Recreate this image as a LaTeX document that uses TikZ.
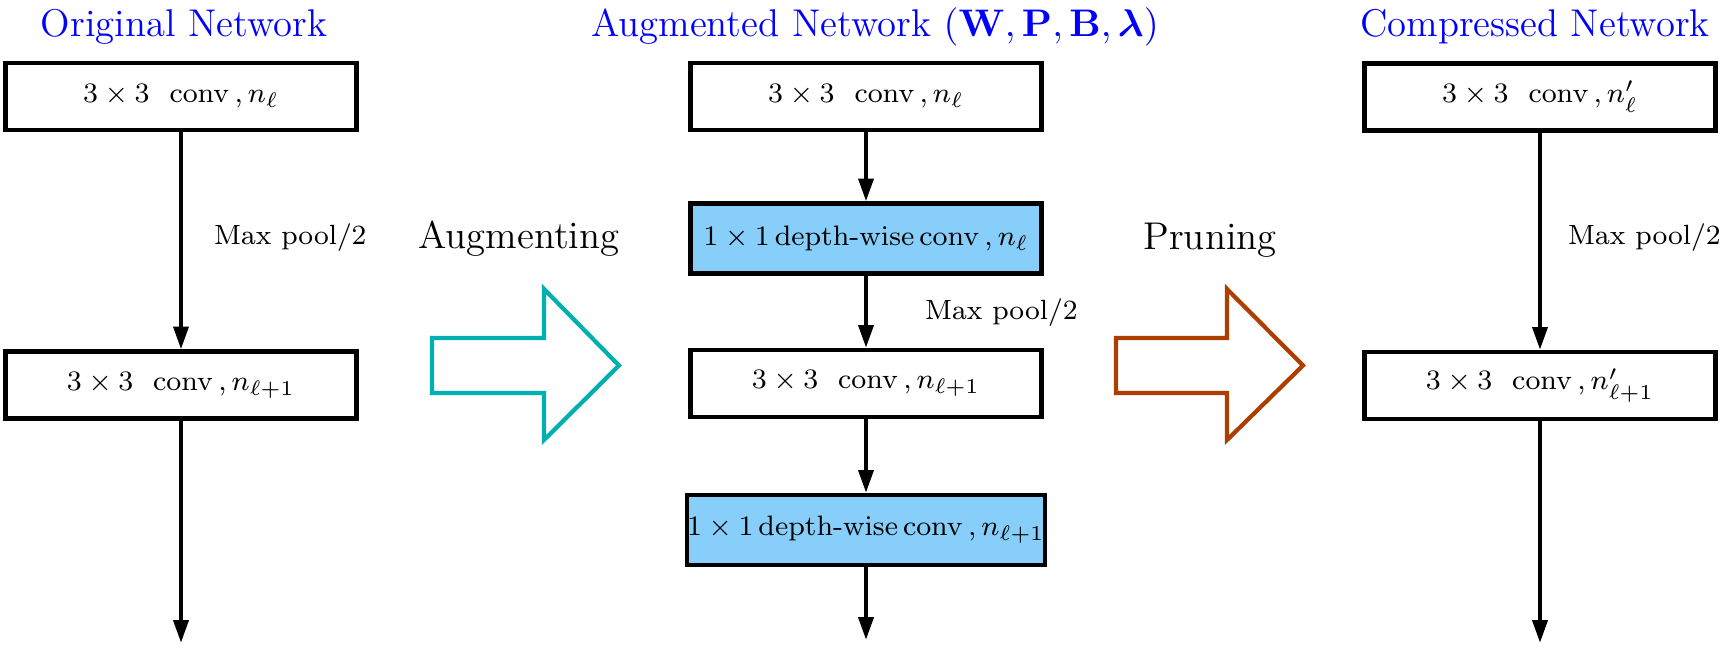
\documentclass[tikz,border=0pt]{standalone}
\usepackage{xcolor}
\usepackage{amsmath}
\usepackage{amssymb}
\usetikzlibrary{arrows.meta,positioning}
\definecolor{augcyan}{RGB}{0,176,176}
\definecolor{pruneorange}{RGB}{172,62,0}
\definecolor{dwblue}{RGB}{135,206,250}
\tikzset{
  every picture/.style = {
    line width = 1.2pt,
    >={Triangle[length=6.5pt,width=4.2pt]},
  }
  ,
  conv-box/.style = {
    rectangle,
    draw,
    fill = white,
    inner sep = 0pt,
    minimum width = 3.51cm,
    minimum height = 0.67cm,
    font = \fontsize{8}{10}\selectfont
  }
  , % depth-wise layers of the augmented net
  dw-box/.style = {
    conv-box,
    fill = dwblue,
    minimum height = 0.70cm
  }
  , % titles of the columns
  label-title/.style = {
    anchor = base,
    text = blue,
    font = \fontsize{11}{13}\selectfont
  }
  , % labels of edges
  label-edge/.style = {
    anchor = base west,
    inner sep = 0pt,
    font = \fontsize{7.9}{10}\selectfont
  }
  , % labels of the big arrows
  label-step/.style = {
    anchor = base,
    font = \fontsize{11}{13}\selectfont
  }
  ,
  block-arrow/.style = {
    draw = #1,
    line width = 1.2pt,
    fill = white
  }
}

\begin{document}
\begin{tikzpicture}
    \useasboundingbox (0,0) rectangle (17.23,-6.5);
    % titles
    \node[label-title] (t-orig) at (1.84,-0.37) {Original Network};
    \node[label-title] (t-aug) at (8.75,-0.37) {Augmented Network $(\mathbf{W},\mathbf{P},\mathbf{B},\boldsymbol{\lambda})$};
    \node[label-title] (t-comp) at (15.35,-0.37) {Compressed Network};
    % original network
    \node[conv-box] (o1) at (1.81,-0.965) {$3\times3~~\mathrm{conv}\,,n_{\ell}$};
    \node[conv-box] (o2) at (1.81,-3.85) {$3\times3~~\mathrm{conv}\,,n_{\ell+1}$};
    \coordinate (o-end) at (1.81,-6.43);
    \node[label-edge] (pool-o) at (2.12,-2.45) {Max pool/2};
    \path[->] (o1) edge (o2);
    \path[->] (o2) edge (o-end);
    % augmented network
    \node[conv-box] (a1) at (8.66,-0.965) {$3\times3~~\mathrm{conv}\,,n_{\ell}$};
    \node[dw-box] (d1) at (8.66,-2.385) {$1\times1\,\mathrm{depth\text{-}wise}\,\mathrm{conv}\,,n_{\ell}$};
    \node[conv-box] (a2) at (8.66,-3.835) {$3\times3~~\mathrm{conv}\,,n_{\ell+1}$};
    \node[dw-box] (d2) at (8.66,-5.30) {$1\times1\,\mathrm{depth\text{-}wise}\,\mathrm{conv}\,,n_{\ell+1}$};
    \coordinate (a-end) at (8.66,-6.40);
    \node[label-edge] (pool-a) at (9.23,-3.20) {Max pool/2};
    \path[->] (a1) edge (d1);
    \path[->] (d1) edge (a2);
    \path[->] (a2) edge (d2);
    \path[->] (d2) edge (a-end);
    % compressed network
    \node[conv-box] (c1) at (15.40,-0.97) {$3\times3~~\mathrm{conv}\,,n'_{\ell}$};
    \node[conv-box] (c2) at (15.40,-3.855) {$3\times3~~\mathrm{conv}\,,n'_{\ell+1}$};
    \coordinate (c-end) at (15.40,-6.43);
    \node[label-edge] (pool-c) at (15.66,-2.45) {Max pool/2};
    \path[->] (c1) edge (c2);
    \path[->] (c2) edge (c-end);
    % steps between the nets
    \node[label-step] (s-aug) at (5.19,-2.49) {Augmenting};
    \node[label-step] (s-prune) at (12.10,-2.50) {Pruning};
    \draw[block-arrow=augcyan] (4.32,-3.38) -- (5.44,-3.38) -- (5.44,-2.89) -- (6.19,-3.655)
      -- (5.44,-4.40) -- (5.44,-3.93) -- (4.32,-3.93) -- cycle;
    \draw[block-arrow=pruneorange] (11.16,-3.38) -- (12.27,-3.38) -- (12.27,-2.89) -- (13.03,-3.655)
      -- (12.27,-4.40) -- (12.27,-3.93) -- (11.16,-3.93) -- cycle;
\end{tikzpicture}
\end{document}
